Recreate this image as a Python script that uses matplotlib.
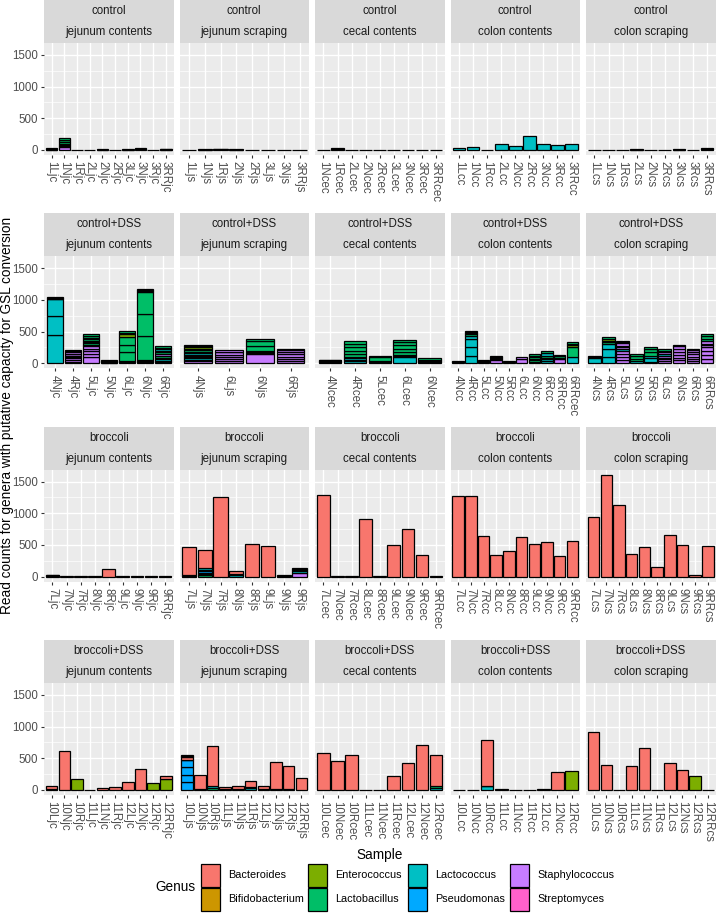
import matplotlib.pyplot as plt
from matplotlib.patches import Rectangle

plt.rcParams['font.family'] = ['Liberation Sans', 'DejaVu Sans']

#%% data

treatments = ["control", "control+DSS", "broccoli", "broccoli+DSS"]
sites = ["jejunum contents", "jejunum scraping", "cecal contents",
         "colon contents", "colon scraping"]

genus_keys = ["Ba", "Bi", "En", "Lb", "Lc", "Ps", "St", "Sm"]
genus_names = ["Bacteroides", "Bifidobacterium", "Enterococcus", "Lactobacillus",
               "Lactococcus", "Pseudomonas", "Staphylococcus", "Streptomyces"]
genus_colors = ["#F8766D", "#CD9600", "#7CAE00", "#00BE67",
                "#00BFC4", "#00A9FF", "#C77CFF", "#FF61CC"]

# control
c_jc_samples = ["1Ljc", "1Njc", "1Rjc", "2Ljc", "2Njc", "2Rjc", "3Ljc", "3Njc", "3Rjc", "3RRjc"]
c_jc_stacks = [[("St", 4), ("Lb", 6), ("Lc", 5), ("En", 4), ("Ps", 6)],
               [("St", 40), ("St", 25), ("Bi", 15), ("Lb", 20), ("Lb", 25), ("Lb", 25), ("En", 8), ("Lb", 27)],
               [("Lb", 3)], [("St", 4)], [("Lc", 5), ("St", 3)], [("Lb", 4)],
               [("St", 3), ("Lc", 4)], [("Lb", 8), ("St", 8), ("Lc", 9)], [("St", 4)],
               [("Lc", 6), ("St", 6), ("Lb", 6)]]
c_js_samples = ["1Ljs", "1Njs", "1Rjs", "2Njs", "2Rjs", "3Ljs", "3Njs", "3RRjs"]
c_js_stacks = [[("St", 3)], [("Lb", 5), ("St", 5)], [("Lc", 8), ("St", 7)], [("Lb", 5), ("St", 5)],
               [("St", 5)], [("Lb", 4)], [("St", 3)], [("Lc", 3)]]
c_cec_samples = ["1Ncec", "1Rcec", "2Lcec", "2Ncec", "2Rcec", "3Lcec", "3Ncec", "3Rcec", "3RRcec"]
c_cec_stacks = [[("Lb", 3)], [("Lb", 10), ("Lc", 10), ("St", 10)], [("Lb", 4)], [("Lc", 3)],
                [("Lb", 3)], [("Lb", 3)], [("Lc", 3)], [("Lb", 3)], [("Lb", 3)]]
c_cc_samples = ["1Lcc", "1Ncc", "1Rcc", "2Lcc", "2Ncc", "2Rcc", "3Ncc", "3Rcc", "3RRcc"]
c_cc_stacks = [[("Lc", 35)], [("Lc", 50)], [("Lc", 5)], [("Lc", 90)], [("Lc", 60)],
               [("Lc", 215)], [("Lc", 90)], [("Lc", 80)], [("Lc", 95)]]
c_cs_samples = ["1Lcs", "1Ncs", "1Rcs", "2Lcs", "2Ncs", "2Rcs", "3Ncs", "3Rcs", "3RRcs"]
c_cs_stacks = [[("Lb", 3)], [("St", 3)], [("Lb", 3)], [("Lb", 4), ("St", 4)], [("Lc", 4)],
               [("St", 3)], [("Lb", 4), ("Lc", 4)], [("St", 3)],
               [("Lb", 8), ("St", 10), ("Lc", 10)]]

# control+DSS
cd_jc_samples = ["4Njc", "4Rjc", "5Ljc", "5Njc", "6Ljc", "6Njc", "6Rjc"]
cd_jc_stacks = [[("Lc", 441), ("Lc", 306), ("Lc", 265), ("Lb", 10), ("St", 8), ("Ps", 8), ("En", 10)],
                [("St", 25), ("St", 25), ("St", 25), ("St", 25), ("Lc", 10), ("St", 30), ("Bi", 8),
                 ("St", 30), ("Lb", 10), ("St", 20)],
                [("St", 104), ("St", 46), ("St", 40), ("St", 40), ("St", 40), ("Lb", 15), ("Ps", 8),
                 ("Lb", 25), ("St", 10), ("Lb", 30), ("Lb", 25), ("Lc", 10), ("En", 8), ("Lb", 25), ("Lb", 31)],
                [("St", 10), ("Lb", 12), ("Lc", 10), ("Ps", 10), ("En", 10)],
                [("Lc", 15), ("Lb", 20), ("Lb", 140), ("Lb", 120), ("Lb", 125), ("En", 35), ("Lb", 25), ("Lb", 28)],
                [("Lc", 15), ("Ps", 15), ("Lb", 20), ("Lb", 385), ("Lb", 345), ("Lb", 343), ("En", 15),
                 ("Lb", 20), ("St", 15)],
                [("Lc", 20), ("St", 20), ("Lc", 20), ("Lb", 30), ("Lb", 30), ("St", 20), ("Lb", 30),
                 ("Lb", 30), ("Lc", 20), ("Lb", 25), ("Lb", 25)]]
cd_js_samples = ["4Njs", "6Ljs", "6Njs", "6Rjs"]
cd_js_stacks = [[("St", 30), ("Lb", 15), ("St", 10), ("Lc", 25), ("Lc", 15), ("Lc", 20), ("Lb", 20), ("Lc", 20),
                 ("Lb", 15), ("Ps", 10), ("Lb", 30), ("Lb", 20), ("En", 20), ("Lb", 20), ("Lb", 20)],
                [("St", 30), ("St", 35), ("St", 35), ("St", 35), ("St", 35), ("Lc", 8), ("St", 35)],
                [("St", 150), ("Lb", 15), ("Lc", 10), ("Ps", 15), ("Lb", 80), ("Lb", 75), ("Lb", 39)],
                [("St", 35), ("St", 35), ("St", 35), ("St", 35), ("St", 35), ("St", 35), ("Lc", 18)]]
cd_cec_samples = ["4Ncec", "4Rcec", "5Lcec", "6Lcec", "6Ncec"]
cd_cec_stacks = [[("Lc", 15), ("Lb", 10), ("St", 10), ("Lb", 10), ("Ps", 10)],
                 [("Lc", 30), ("Lc", 25), ("Lc", 25), ("Lc", 25), ("Lb", 45), ("Lb", 50), ("Lb", 50),
                  ("Lb", 50), ("Lb", 48)],
                 [("Lc", 15), ("Lb", 20), ("Lb", 65), ("Lb", 20)],
                 [("Lc", 100), ("Lc", 20), ("Ps", 10), ("Lb", 50), ("Lb", 50), ("Lb", 50), ("Lb", 50), ("Lb", 38)],
                 [("Lc", 20), ("Lb", 20), ("St", 18), ("Lb", 20)]]
cd_cc_samples = ["4Ncc", "4Rcc", "5Lcc", "5Ncc", "5Rcc", "6Lcc", "6Ncc", "6Rcc", "6RRcc", "6RRcec"]
cd_cc_stacks = [[("Lc", 20), ("Lb", 16)],
                [("Lc", 110), ("Lc", 140), ("Lc", 140), ("Lc", 40), ("Lb", 30), ("Lb", 20), ("Lb", 14), ("En", 20)],
                [("Lb", 15), ("St", 12), ("Lc", 15), ("Lb", 10)],
                [("St", 55), ("Lb", 15), ("St", 10), ("Lc", 15), ("Lb", 25)],
                [("Lb", 12), ("St", 12), ("Lc", 12)],
                [("St", 60), ("St", 33)],
                [("Lc", 25), ("Lb", 20), ("Lc", 20), ("Lb", 30), ("En", 25), ("Lb", 25)],
                [("Lc", 30), ("Lc", 30), ("Lc", 30), ("Lb", 30), ("Lc", 40), ("Lb", 32)],
                [("St", 60), ("Lb", 25), ("Lb", 25), ("Lc", 25)],
                [("Lc", 100), ("Lb", 150), ("En", 40), ("Lb", 20), ("Lb", 27)]]
cd_cs_samples = ["4Ncs", "4Rcs", "5Lcs", "5Ncs", "5Rcs", "6Lcs", "6Ncs", "6Rcs", "6RRcs"]
cd_cs_stacks = [[("Lc", 85), ("Lb", 15), ("St", 14)],
                [("Lc", 100), ("Lc", 120), ("Lc", 80), ("Lb", 30), ("Lb", 25), ("En", 20), ("Lb", 40)],
                [("St", 50), ("St", 50), ("St", 50), ("St", 50), ("Lc", 20), ("St", 40), ("Ps", 15),
                 ("St", 40), ("Lb", 23), ("Lb", 20)],
                [("Lc", 30), ("Lb", 40), ("Lb", 40), ("Lb", 30)],
                [("St", 25), ("Lc", 50), ("Lc", 40), ("Lb", 60), ("Lb", 45), ("Lb", 40)],
                [("St", 30), ("St", 30), ("St", 30), ("St", 30), ("Lc", 25), ("St", 25), ("Ps", 25), ("Lb", 23)],
                [("St", 45), ("St", 45), ("St", 45), ("St", 45), ("St", 45), ("St", 40), ("Lb", 25)],
                [("St", 35), ("St", 35), ("St", 35), ("St", 35), ("St", 35), ("St", 30), ("Lb", 23)],
                [("St", 70), ("St", 60), ("St", 60), ("St", 60), ("St", 40), ("Ps", 20), ("St", 40),
                 ("Lb", 40), ("Lb", 40), ("Lb", 32)]]

# broccoli
b_jc_samples = ["7Ljc", "7Njc", "7Rjc", "8Njc", "8Rjc", "9Ljc", "9Njc", "9Rjc", "9RRjc"]
b_jc_stacks = [[("Lb", 10), ("St", 10), ("Lc", 10)], [("Ba", 5)], [("Ba", 5)], [("Ba", 5)],
               [("Ba", 115)], [("Ba", 5)], [("Ba", 3)], [("Ba", 10)], [("Ba", 15)]]
b_js_samples = ["7Ljs", "7Njs", "7Rjs", "8Njs", "8Rjs", "9Ljs", "9Njs", "9Rjs"]
b_js_stacks = [[("Lb", 15), ("Lc", 15), ("Ba", 431)],
               [("Lb", 20), ("Ps", 25), ("Lc", 15), ("Ps", 20), ("Lb", 20), ("Lc", 30), ("Ba", 289)],
               [("Ba", 1263)],
               [("Lc", 20), ("Lb", 20), ("Ba", 54)],
               [("Ba", 514)], [("Ba", 482)],
               [("Lb", 13), ("St", 13)],
               [("St", 60), ("Lc", 20), ("Ps", 15), ("Lb", 30), ("Lb", 16)]]
b_cec_samples = ["7Lcec", "7Ncec", "7Rcec", "8Lcec", "8Rcec", "9Lcec", "9Ncec", "9Rcec", "9RRcec"]
b_cec_stacks = [[("Ba", 1285)], [("Ba", 3)], [("Ba", 10)], [("Ba", 912)], [("Ba", 3)],
                [("Ba", 498)], [("Ba", 755)], [("Ba", 346)], [("Ba", 3)]]
b_cc_samples = ["7Lcc", "7Ncc", "7Rcc", "8Lcc", "8Ncc", "8Rcc", "9Lcc", "9Ncc", "9Rcc", "9RRcc"]
b_cc_stacks = [[("Ba", 1278)], [("Ba", 1278)], [("Ba", 639)], [("Ba", 335)], [("Ba", 409)],
               [("Ba", 629)], [("Ba", 519)], [("Ba", 545)], [("Ba", 330)], [("Ba", 566)]]
b_cs_samples = ["7Lcs", "7Ncs", "7Rcs", "8Lcs", "8Ncs", "8Rcs", "9Lcs", "9Ncs", "9Rcs", "9RRcs"]
b_cs_stacks = [[("Ba", 943)], [("Ba", 1609)], [("Ba", 1137)], [("Ba", 362)], [("Ba", 466)],
               [("Ba", 157)], [("Ba", 655)], [("Ba", 493)], [("Ba", 31)], [("Ba", 477)]]

# broccoli+DSS
bd_jc_samples = ["10Ljc", "10Njc", "10Rjc", "11Ljc", "11Njc", "11Rjc", "12Ljc", "12Njc", "12Rjc", "12RRjc"]
bd_jc_stacks = [[("Lb", 15), ("Ba", 48)], [("Ba", 615)], [("En", 174)], [("Ba", 1)], [("Ba", 30)],
                [("Ba", 40)], [("Ba", 121)], [("Ba", 331)], [("En", 115)], [("En", 180), ("Ba", 35)]]
bd_js_samples = ["10Ljs", "10Njs", "10Rjs", "11Ljs", "11Njs", "11Rjs", "12Ljs", "12Njs", "12Rjs", "12RRjs"]
bd_js_stacks = [[("Ps", 130), ("Ps", 100), ("Ps", 130), ("Ps", 110), ("Lc", 10), ("Ba", 40), ("Lb", 10), ("Ba", 27)],
                [("Lb", 15), ("Ba", 222)], [("Lb", 30), ("Lc", 30), ("Ba", 629)], [("Lb", 20), ("Ba", 22)],
                [("Lb", 10), ("Ba", 58)], [("Lc", 30), ("Lb", 20), ("Ba", 97)], [("Lb", 10), ("Ba", 58)],
                [("Lb", 10), ("Ba", 432)], [("Lb", 15), ("Ba", 364)], [("Ba", 189)]]
bd_cec_samples = ["10Lcec", "10Ncec", "10Rcec", "11Lcec", "11Ncec", "11Rcec", "12Lcec", "12Ncec", "12Rcec"]
bd_cec_stacks = [[("Ba", 590)], [("Ba", 455)], [("Ba", 555)], [("Ba", 1)], [("Ba", 5)], [("Ba", 216)],
                 [("Ba", 431)], [("Ba", 710)], [("Lc", 35), ("Lb", 28), ("Ba", 489)]]
bd_cc_samples = ["10Lcc", "10Ncc", "10Rcc", "11Lcc", "11Ncc", "11Rcc", "12Lcc", "12Ncc", "12Rcc"]
bd_cc_stacks = [[("Ba", 3)], [("Ba", 3)], [("Lc", 55), ("Lb", 10), ("Ba", 724)], [("Ba", 15)], [("Ba", 1)],
                [("Ba", 3)], [("Ba", 15)], [("Ba", 284)], [("En", 295)]]
bd_cs_samples = ["10Lcs", "10Ncs", "10Rcs", "11Lcs", "11Ncs", "11Rcs", "12Lcs", "12Ncs", "12Rcs", "12RRcs"]
bd_cs_stacks = [[("Ba", 915)], [("Ba", 389)], [("Ba", 3)], [("Ba", 379)], [("Ba", 663)], [("Ba", 3)],
                [("Ba", 421)], [("Ba", 310)], [("En", 216)], [("Ba", 3)]]

panel_data = [
    [(c_jc_samples, c_jc_stacks), (c_js_samples, c_js_stacks), (c_cec_samples, c_cec_stacks),
     (c_cc_samples, c_cc_stacks), (c_cs_samples, c_cs_stacks)],
    [(cd_jc_samples, cd_jc_stacks), (cd_js_samples, cd_js_stacks), (cd_cec_samples, cd_cec_stacks),
     (cd_cc_samples, cd_cc_stacks), (cd_cs_samples, cd_cs_stacks)],
    [(b_jc_samples, b_jc_stacks), (b_js_samples, b_js_stacks), (b_cec_samples, b_cec_stacks),
     (b_cc_samples, b_cc_stacks), (b_cs_samples, b_cs_stacks)],
    [(bd_jc_samples, bd_jc_stacks), (bd_js_samples, bd_js_stacks), (bd_cec_samples, bd_cec_stacks),
     (bd_cc_samples, bd_cc_stacks), (bd_cs_samples, bd_cs_stacks)],
]

#%% layout (pixels)

W, H = 716, 924
fig = plt.figure(figsize=(W / 100, H / 100), dpi=100)


def px_axes(x, y, w, h):
    return fig.add_axes([x / W, 1 - (y + h) / H, w / W, h / H])


color_of = dict(zip(genus_keys, genus_colors))
ymax = max(sum(v for _, v in s) for row in panel_data for _, stacks in row for s in stacks)
ylo, yhi = -0.05 * ymax, 1.05 * ymax

col_x = [44 + i * 135.5 for i in range(5)]
row_y = [0, 213.3, 426.6, 640]
pw, strip_h, ph = 129.5, 43, 112
tick_fs = 8.3

for r, treat in enumerate(treatments):
    for c, site in enumerate(sites):
        samples, stacks = panel_data[r][c]
        ax = px_axes(col_x[c], row_y[r] + strip_h, pw, ph)
        ax.set_facecolor('#EBEBEB')
        for i, stack in enumerate(stacks):
            bottom = 0
            for g, v in stack:
                ax.bar(i + 1, v, bottom=bottom, width=0.9, color=color_of[g],
                       edgecolor='black', linewidth=0.9, zorder=3)
                bottom += v
        n = len(samples)
        ax.set_xlim(0.4, n + 0.6)
        ax.set_ylim(ylo, yhi)
        ax.set_xticks(range(1, n + 1))
        ax.set_xticklabels(samples, rotation=270, va='top', ha='center',
                           fontsize=tick_fs, color='#4D4D4D')
        ax.set_yticks([0, 500, 1000, 1500])
        ax.set_yticks([250, 750, 1250], minor=True)
        ax.set_yticklabels(['0', '500', '1000', '1500'], fontsize=tick_fs, color='#4D4D4D')
        ax.grid(which='major', color='white', linewidth=1.0, zorder=0)
        ax.grid(which='minor', axis='y', color='white', linewidth=0.5, zorder=0)
        ax.set_axisbelow(True)
        for s in ax.spines.values():
            s.set_visible(False)
        ax.tick_params(which='major', length=2.5, width=0.8, color='#333333', pad=2)
        ax.tick_params(which='minor', length=0)
        if c > 0:
            ax.tick_params(axis='y', left=False, labelleft=False)

        st = px_axes(col_x[c], row_y[r], pw, strip_h)
        st.set_facecolor('#D9D9D9')
        st.set_xticks([])
        st.set_yticks([])
        for s in st.spines.values():
            s.set_visible(False)
        st.text(0.5, 1 - 11 / strip_h, treat, ha='center', va='center', fontsize=tick_fs, color='#1A1A1A')
        st.text(0.5, 1 - 32 / strip_h, site, ha='center', va='center', fontsize=tick_fs, color='#1A1A1A')

fig.text(7 / W, 1 - 415 / H, "Read counts for genera with putative capacity for GSL conversion",
         rotation=90, ha='center', va='center', fontsize=9.8)
fig.text(380 / W, 1 - 855 / H, "Sample", ha='center', va='center', fontsize=9.8)

#%% legend

lax = px_axes(0, 840, W, 84)
lax.set_xlim(0, W)
lax.set_ylim(84, 0)
lax.axis('off')
lax.text(175, 47, "Genus", ha='center', va='center', fontsize=9.8)
key_x = [201, 308, 408, 510]
for k, (name, col) in enumerate(zip(genus_names, genus_colors)):
    cx = key_x[k // 2]
    cy = 35 + 24 * (k % 2)
    lax.add_patch(Rectangle((cx, cy - 11.5), 19, 23, facecolor=col, edgecolor='black', linewidth=0.9))
    lax.text(cx + 27, cy, name, ha='left', va='center', fontsize=7.8)

fig.savefig('out.png', dpi=100)
